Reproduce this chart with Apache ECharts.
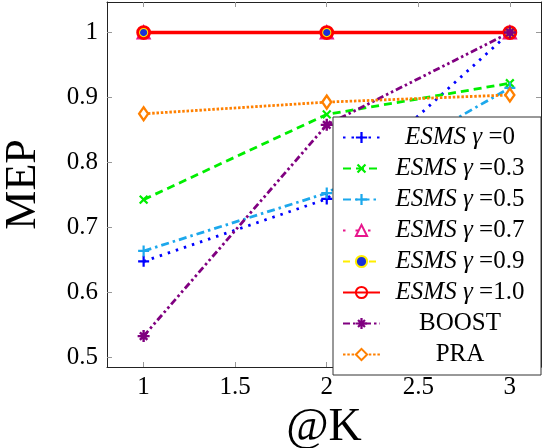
<!DOCTYPE html>
<html>
<head>
<meta charset="utf-8">
<script src="https://cdn.jsdelivr.net/npm/echarts@6/dist/echarts.min.js"></script>
<style>
html, body { margin: 0; padding: 0; background: #fff; }
#chart { width: 542px; height: 448px; }
</style>
</head>
<body>
<div id="chart"></div>
<script>
var ks = [1, 2, 3];
var xTicks = [1, 1.5, 2, 2.5, 3];
var yTicks = [0.5, 0.6, 0.7, 0.8, 0.9, 1];

var esms0 = [0.648, 0.744, 1.0];
var esms03 = [0.743, 0.874, 0.922];
var esms05 = [0.664, 0.753, 0.915];
var esms07 = [1.0, 1.0, 1.0];
var esms09 = [1.0, 1.0, 1.0];
var esms10 = [1.0, 1.0, 1.0];
var boost = [0.533, 0.858, 1.0];
var pra = [0.875, 0.893, 0.904];

var font = 'Liberation Serif';
var plus = 'path://M4,0H6V4H10V6H6V10H4V6H0V4H4Z';
var star = 'path://M4,0H6V4H10V6H6V10H4V6H0V4H4Z M1.2,2.6L2.6,1.2L8.8,7.4L7.4,8.8Z M7.4,1.2L8.8,2.6L2.6,8.8L1.2,7.4Z';

function pts(arr) {
    return ks.map(function (k, i) { return [k, arr[i]]; });
}

function line(name, data, color, type, width, symbol, size, itemStyle, rotate) {
    return {
        name: name,
        type: 'line',
        data: pts(data),
        symbol: symbol,
        symbolSize: size,
        symbolRotate: rotate || 0,
        lineStyle: { color: color, width: width, type: type },
        itemStyle: itemStyle || { color: color },
        emphasis: { disabled: true }
    };
}

var chart = echarts.init(document.getElementById('chart'));
var option = {
    animation: false,
    grid: { left: 107, right: 1, top: 2, bottom: 81, outerBoundsMode: 'none', containLabel: false },
    legend: {
        orient: 'vertical',
        left: 333,
        top: 117,
        padding: [8, 6, 8, 9],
        itemWidth: 37,
        itemHeight: 14,
        itemGap: 6,
        backgroundColor: '#fff',
        borderColor: '#333',
        borderWidth: 1,
        selectedMode: false,
        textStyle: {
            width: 150,
            lineHeight: 24,
            fontFamily: font,
            fontSize: 25,
            color: '#000',
            rich: {
                i: { fontFamily: font, fontSize: 25, fontStyle: 'italic', align: 'center', color: '#000' },
                n: { fontFamily: font, fontSize: 25, align: 'center', color: '#000' }
            }
        },
        formatter: function (name) {
            if (name.indexOf('ESMS') === 0) {
                var v = name.split('=')[1];
                return '{i|ESMS}{n| }{i|γ}{n| =' + v + '}';
            }
            return '{n|' + name + '}';
        }
    },
    xAxis: [{
        type: 'value',
        min: 0.8,
        max: 3.17,
        name: '@K',
        nameLocation: 'middle',
        nameGap: 38,
        nameTextStyle: { fontFamily: font, fontSize: 46, color: '#000' },
        axisLine: { lineStyle: { color: '#222', width: 1 } },
        axisTick: { inside: true, length: 5, customValues: xTicks, lineStyle: { color: '#999' } },
        axisLabel: { customValues: xTicks, margin: 8, fontFamily: font, fontSize: 25, color: '#000' },
        splitLine: { show: false }
    }, {
        type: 'value',
        position: 'top',
        min: 0.8,
        max: 3.17,
        axisLine: { lineStyle: { color: '#222', width: 1 } },
        axisTick: { inside: true, length: 5, customValues: xTicks, lineStyle: { color: '#999' } },
        axisLabel: { show: false },
        splitLine: { show: false }
    }],
    yAxis: [{
        type: 'value',
        min: 0.4855,
        max: 1.047,
        name: 'MEP',
        nameLocation: 'middle',
        nameGap: 62,
        nameTextStyle: { fontFamily: font, fontSize: 44, color: '#000' },
        axisLine: { show: true, lineStyle: { color: '#222', width: 1 } },
        axisTick: { show: true, inside: true, length: 5, customValues: yTicks, lineStyle: { color: '#999' } },
        axisLabel: { customValues: yTicks, margin: 9, fontFamily: font, fontSize: 25, color: '#000' },
        splitLine: { show: false }
    }, {
        type: 'value',
        position: 'right',
        min: 0.4855,
        max: 1.047,
        axisLine: { show: true, lineStyle: { color: '#222', width: 1 } },
        axisTick: { show: true, inside: true, length: 5, customValues: yTicks, lineStyle: { color: '#999' } },
        axisLabel: { show: false },
        splitLine: { show: false }
    }],
    series: [
        line('ESMS γ =0', esms0, '#0000ff', [2.5, 6], 2.8, plus, 11),
        line('ESMS γ =0.3', esms03, '#00ee00', [8, 5], 2.8, plus, 11, null, 45),
        line('ESMS γ =0.5', esms05, '#1ca8ec', [8, 4, 2.5, 4], 2.8, plus, 11),
        line('ESMS γ =0.7', esms07, '#e8168c', [2.5, 10], 2.8, 'triangle', 11,
            { color: '#fff', borderColor: '#e8168c', borderWidth: 2.8 }),
        line('ESMS γ =0.9', esms09, '#ffee00', [7, 6], 2.8, 'circle', 10,
            { color: '#1830d8', borderColor: '#ffee00', borderWidth: 2.8 }),
        line('ESMS γ =1.0', esms10, '#ff0000', 'solid', 3.4, 'circle', 12,
            { color: 'rgba(0,0,0,0)', borderColor: '#ff0000', borderWidth: 2.8 }),
        line('BOOST', boost, '#800080', [7, 3, 2.5, 3, 2.5, 3], 2.8, star, 12),
        line('PRA', pra, '#ff8000', [2.5, 1.8], 2.8, 'diamond', [9, 13],
            { color: '#fff', borderColor: '#ff8000', borderWidth: 2.4 })
    ]
};
chart.setOption(option);
</script>
</body>
</html>
